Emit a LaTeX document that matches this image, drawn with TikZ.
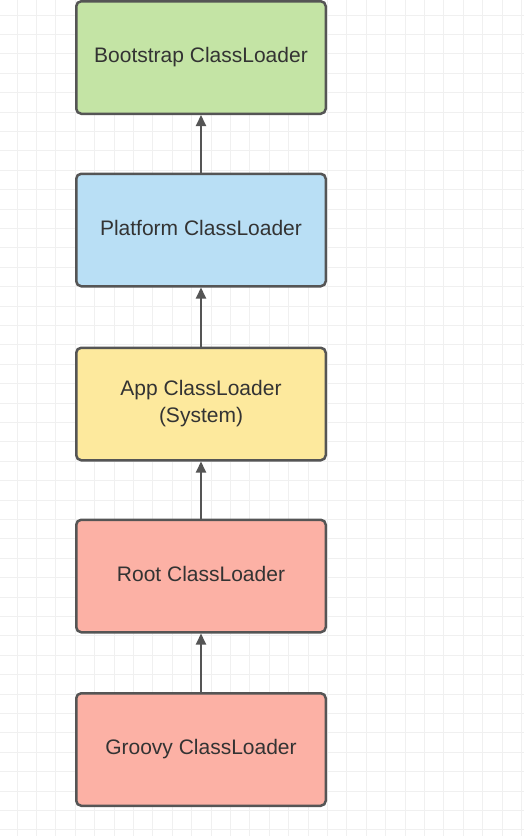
\documentclass[tikz,border=0pt]{standalone}
\usepackage{fontspec}
\setmainfont{Liberation Sans}
\usetikzlibrary{arrows.meta}

\definecolor{gridgray}{HTML}{F0F0F0}
\definecolor{edgegray}{HTML}{555555}
\definecolor{textgray}{HTML}{333333}
\definecolor{bootgreen}{HTML}{C4E4A5}
\definecolor{platblue}{HTML}{B9DFF5}
\definecolor{appyellow}{HTML}{FDE99D}
\definecolor{rootred}{HTML}{FCB1A5}

\tikzset{
  loaderbox/.style={draw=edgegray, line width=2.5pt, rounded corners=5pt,
    minimum width=249.5pt, minimum height=112.5pt, align=center,
    text=textgray, font=\fontsize{21}{27}\selectfont},
  parentarrow/.style={draw=edgegray, line width=2pt,
    -{Triangle[length=11pt,width=10pt]}}
}

\begin{document}
\begin{tikzpicture}[x=1pt, y=-1pt]
  % 背景と方眼
  \useasboundingbox (0,0) rectangle (524,836);
  \fill[white] (0,0) rectangle (524,836);
  \foreach \i in {-17,...,9} {
    \draw[gridgray, line width=0.7pt] (346.7+19.4*\i,0) -- (346.7+19.4*\i,836);
  }
  \foreach \j in {-25,...,17} {
    \draw[gridgray, line width=0.7pt] (0,500+19.4*\j) -- (524,500+19.4*\j);
  }

  % クラスローダー
  \node[loaderbox, fill=bootgreen] (bootstrap) at (201,57.5) {Bootstrap ClassLoader\vphantom{y}};
  \node[loaderbox, fill=platblue] (platform) at (201,230) {Platform ClassLoader\vphantom{y}};
  \node[loaderbox, fill=appyellow] (app) at (201,404) {App ClassLoader\\(System)};
  \node[loaderbox, fill=rootred] (root) at (201,576) {Root ClassLoader\vphantom{y}};
  \node[loaderbox, fill=rootred] (groovy) at (201,749.5) {Groovy ClassLoader};

  % 親への矢印
  \draw[parentarrow] (platform.north) -- (bootstrap.south);
  \draw[parentarrow] (app.north) -- (platform.south);
  \draw[parentarrow] (root.north) -- (app.south);
  \draw[parentarrow] (groovy.north) -- (root.south);
\end{tikzpicture}
\end{document}
